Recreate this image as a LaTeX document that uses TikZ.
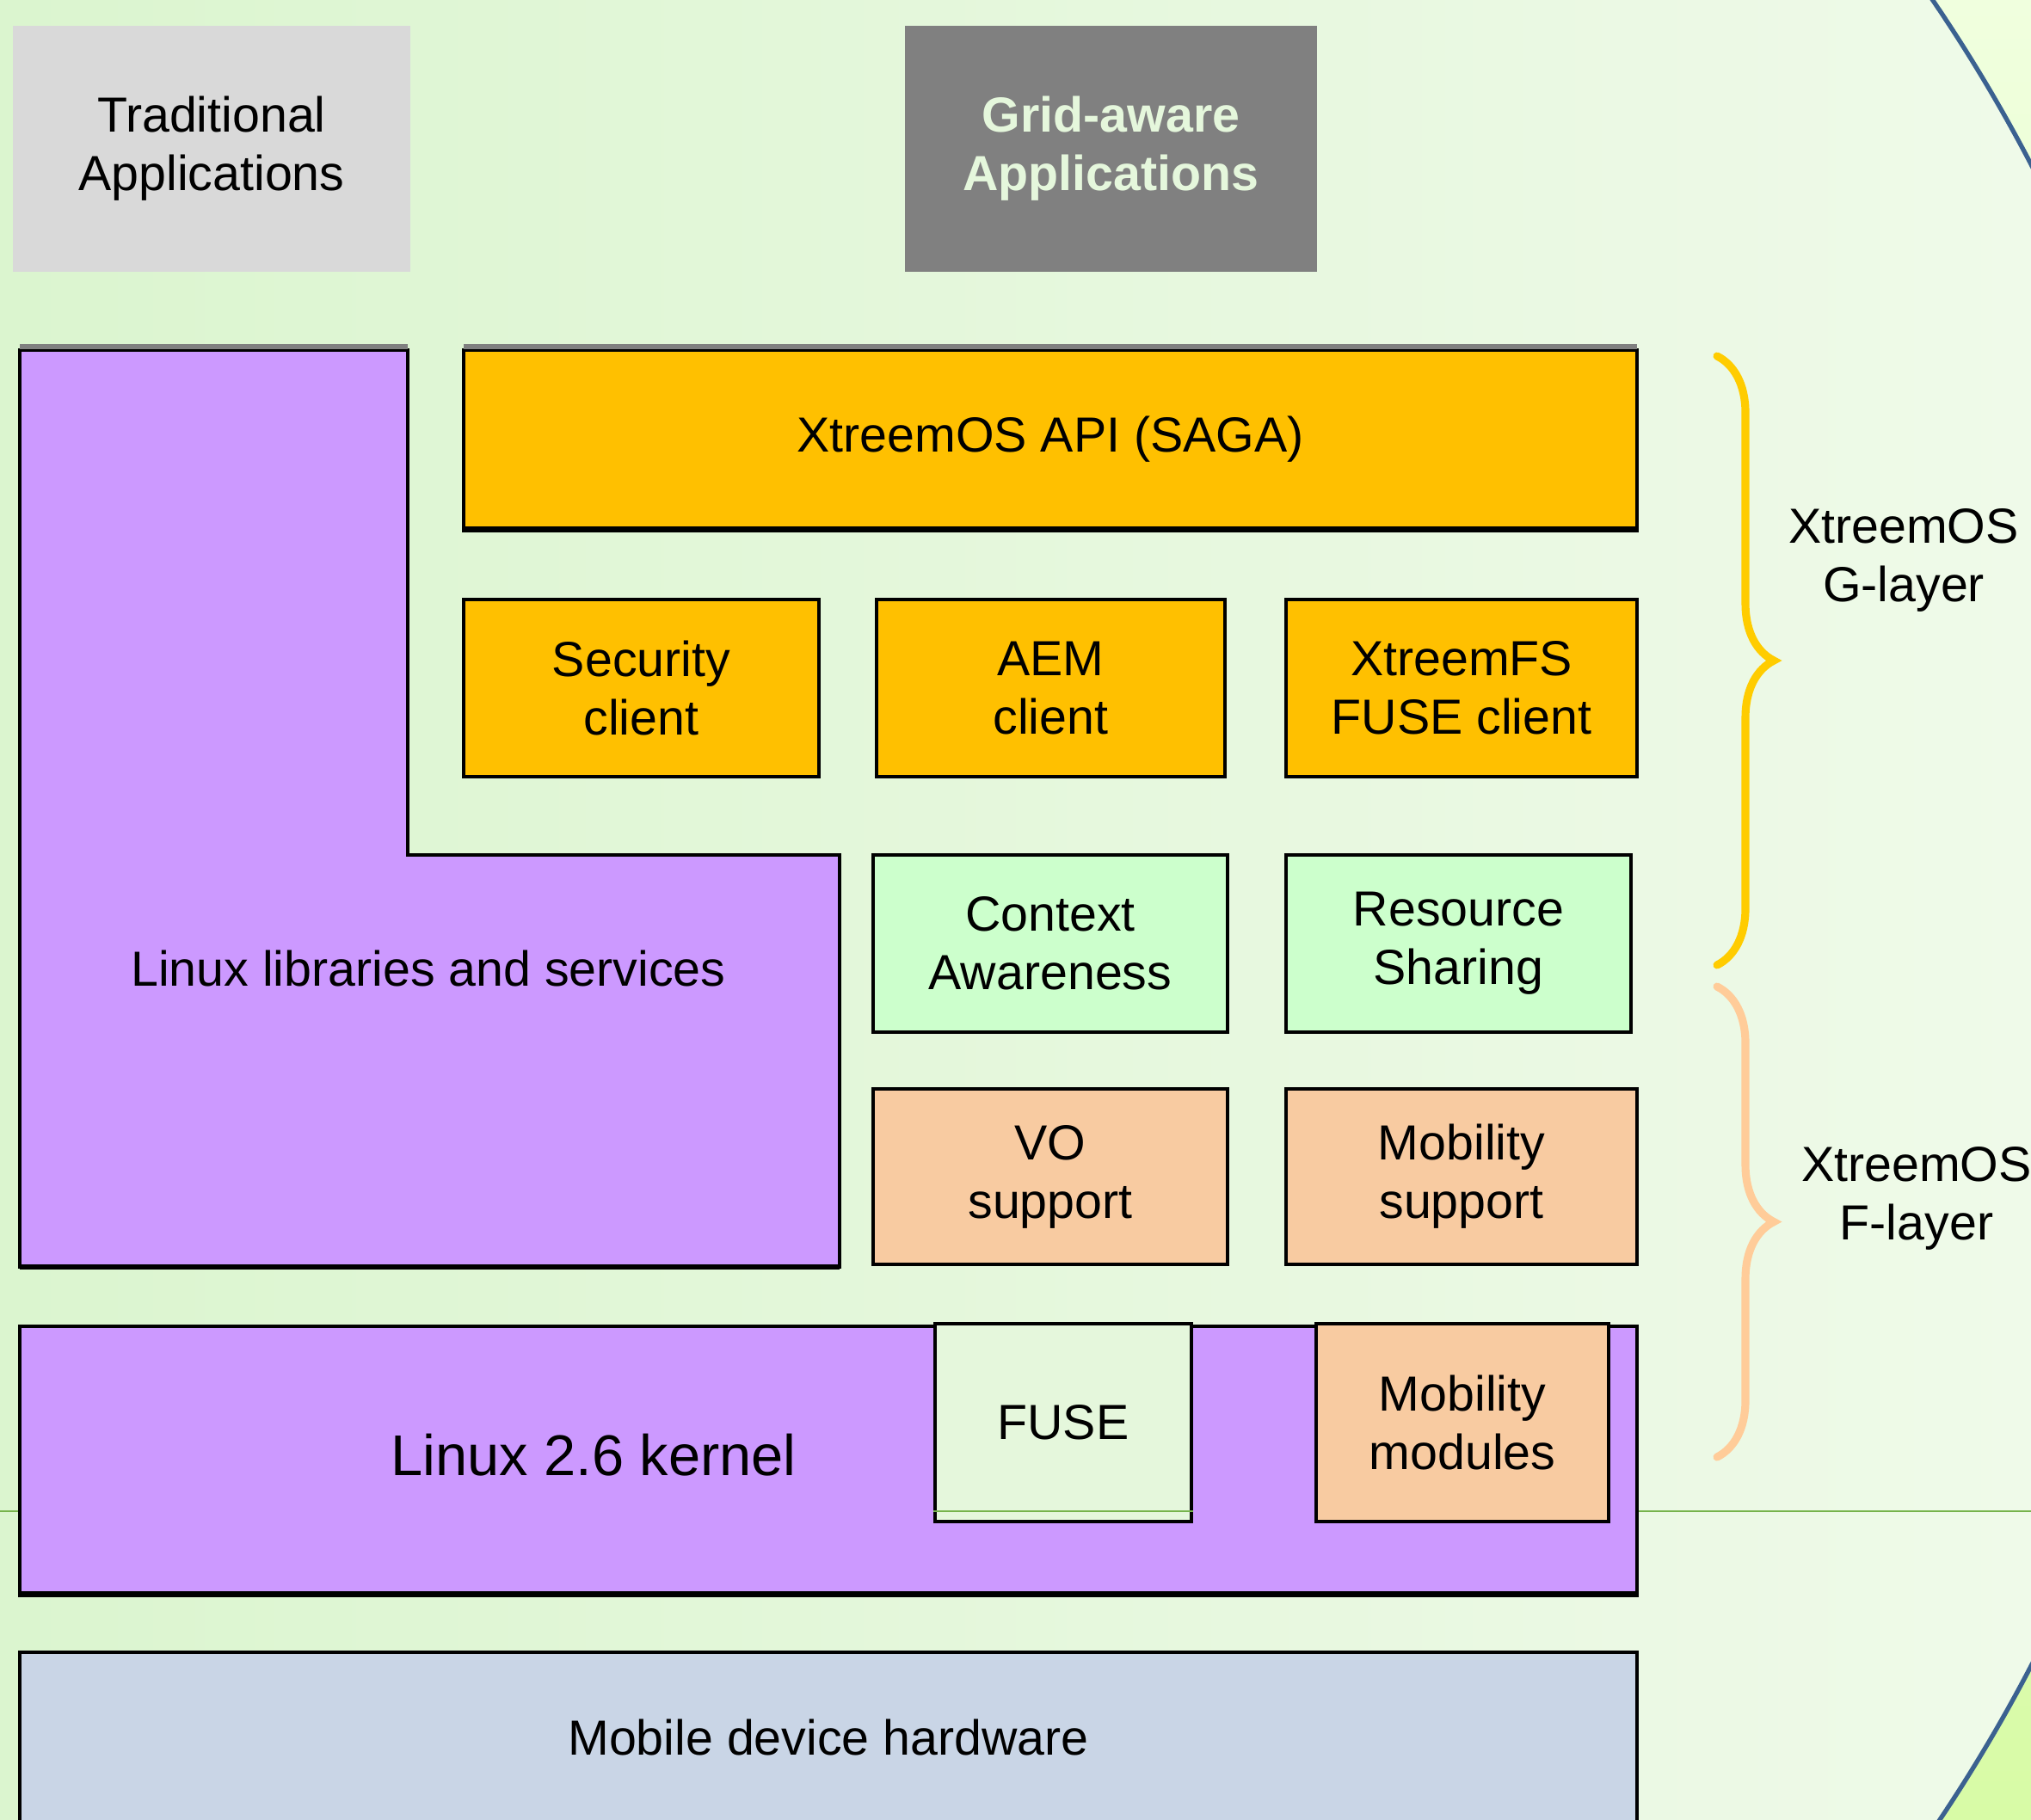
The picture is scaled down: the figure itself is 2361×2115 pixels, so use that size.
\documentclass[tikz,border=0pt]{standalone}
\usepackage{fontspec}
\setmainfont{Liberation Sans}
\usetikzlibrary{decorations.pathreplacing}
\definecolor{lilac}{HTML}{CC99FF}
\definecolor{amber}{HTML}{FFC000}
\definecolor{mint}{HTML}{CCFFCC}
\definecolor{peach}{HTML}{F8CBA1}
\definecolor{pale}{HTML}{E5F7DC}
\definecolor{steel}{HTML}{C9D5E6}
\definecolor{bgleft}{HTML}{DBF5CF}
\definecolor{bgright}{HTML}{EFFAE9}
\definecolor{glowtop}{HTML}{F0FFDE}
\definecolor{glowbot}{HTML}{D8FBA6}
\definecolor{rim}{HTML}{3B6190}
\definecolor{guidegreen}{HTML}{76B34C}
\definecolor{gbr}{HTML}{FFCC00}
\definecolor{fbr}{HTML}{FFCC99}
\def\slab[#1]#2(#3,#4)(#5,#6)#7{\node[#1,minimum width={(#5-#3)*0.01cm},minimum height={(#6-#4)*0.01cm}] (#2) at ({(#3+#5)/2},{(#4+#6)/2}) {#7};}
\tikzset{
	txt/.style={align=center,inner sep=0pt,font=\fontsize{16.3}{19.3}\selectfont},
	blk/.style={txt,draw=black,line width=1.1pt},
	apibox/.style={blk,fill=amber},
	ctxbox/.style={blk,fill=mint},
	mobbox/.style={blk,fill=peach},
	kernbox/.style={blk,fill=lilac},
	fusebox/.style={blk,fill=pale},
	hwbox/.style={blk,fill=steel},
	band/.style={line width=1.6pt,color=black!50},
	heavy/.style={line width=1.9pt,color=black},
	guide/.style={line width=0.5pt,color=guidegreen},
	layerbrace/.style={decorate,decoration={brace,amplitude=0.66cm},line width=2.6pt,line cap=round}
}

\begin{document}
\begin{tikzpicture}[x=0.01cm,y=-0.01cm]
			%%%%% START %%%%%
			\useasboundingbox (0,0) rectangle (2361,2115);
			
			\shade[top color=glowtop,bottom color=glowbot] (0,0) rectangle (2361,2115);
			\begin{scope}
				\clip (683,1064) circle [radius=18.9cm];
				\shade[left color=bgleft,right color=bgright] (0,0) rectangle (2361,2115);
			\end{scope}
			\draw[line width=1.5pt,color=rim] (683,1064) circle [radius=18.9cm];
			
			\coordinate (gl) at (0,1757);
			\coordinate (gr) at (2361,1757);
			\draw[guide] (gl) -- (gr);
			
			\slab[txt,fill=black!15]{trad}(15,30)(477,316){Traditional\\Applications}
			\slab[txt,fill=black!50,text=pale,font=\fontsize{16.3}{19.3}\selectfont\bfseries]{grid}(1052,30)(1531,316){Grid-aware\\Applications}
			
			\draw[kernbox] (23,407) -- (474,407) -- (474,994) -- (976,994) -- (976,1473) -- (23,1473) -- cycle;
			\draw[heavy] (23,1473) -- (976,1473);
			\node[txt] (libs) at (498,1126) {Linux libraries and services};
			
			\slab[apibox]{api}(539,407)(1903,614){XtreemOS API (SAGA)}
			\draw[heavy] (api.south west) -- (api.south east);
			\draw[band] (23,403) -- (474,403);
			\draw[band] (539,403) -- (1903,403);
			
			\slab[apibox]{sec}(539,697)(952,903){Security\\client}
			\slab[apibox]{aem}(1019,697)(1424,903){AEM\\client}
			\slab[apibox]{xfs}(1495,697)(1903,903){XtreemFS\\FUSE client}
			
			\slab[ctxbox]{ctx}(1015,994)(1427,1200){Context\\Awareness}
			\slab[ctxbox]{res}(1495,994)(1896,1200){Resource\\Sharing}
			
			\slab[mobbox]{vo}(1015,1266)(1427,1470){VO\\support}
			\slab[mobbox]{mob}(1495,1266)(1903,1470){Mobility\\support}
			
			\slab[kernbox]{kernel}(23,1542)(1903,1852){}
			\draw[heavy] (kernel.south west) -- (kernel.south east);
			\node[txt,font=\fontsize{19}{22}\selectfont] (kernlbl) at (690,1692) {Linux 2.6 kernel};
			\slab[fusebox]{fuse}(1087,1539)(1385,1769){FUSE}
			\draw[guide] (fuse.west |- gl) -- (fuse.east |- gl);
			\slab[mobbox]{mobmod}(1530,1539)(1870,1769){Mobility\\modules}
			
			\slab[hwbox]{hw}(23,1921)(1903,2119){Mobile device hardware}
			
			\coordinate (gtop) at (1996,414);
			\coordinate (gbot) at (1996,1122);
			\draw[layerbrace,color=gbr] (gtop) -- (gbot);
			\node[txt] (glayer) at (2213,651) {XtreemOS\\G-layer};
			
			\coordinate (ftop) at (1996,1147);
			\coordinate (fbot) at (1996,1694);
			\draw[layerbrace,color=fbr] (ftop) -- (fbot);
			\node[txt] (flayer) at (2228,1393) {XtreemOS\\F-layer};
			
			%%%%% END %%%%%
\end{tikzpicture}
\end{document}
